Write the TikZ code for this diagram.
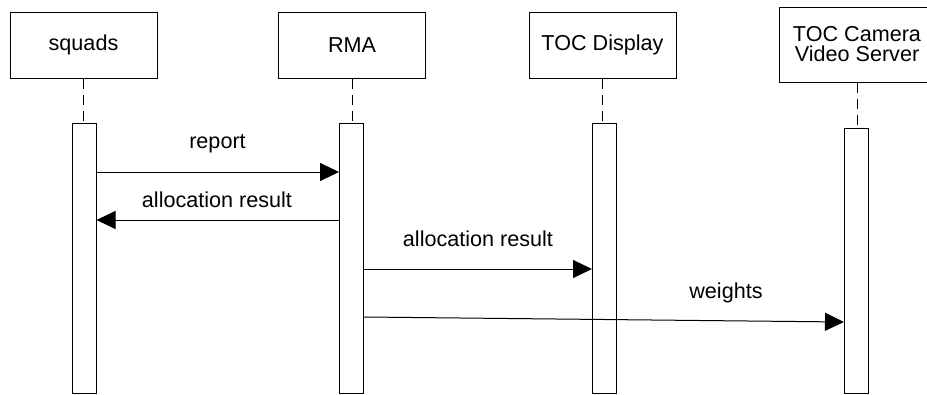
\documentclass[tikz,border=0pt]{standalone}
\usepackage{fontspec}
\setmainfont{Liberation Sans}
\usetikzlibrary{arrows.meta}
\begin{document}
\begin{tikzpicture}[x=1pt,y=-1pt,
  every node/.style={font=\fontsize{21.6}{20}\selectfont},
  actor/.style={draw, line width=1pt, minimum width=147pt, minimum height=66pt, inner sep=0pt, align=center},
  actbar/.style={draw, line width=1pt, minimum width=24pt, inner sep=0pt},
  life/.style={line width=1pt, dash pattern=on 10pt off 6pt},
  msg/.style={line width=1pt, -{Triangle[length=19pt,width=18pt]}},
  lbl/.style={anchor=base, inner sep=0pt}]
\useasboundingbox (0,0) rectangle (927,394);
% actors
\node[actor] (sq) at (83.5,45) {squads};
\node[actor] (rma) at (352,45) {RMA};
\node[actor] (tocd) at (602.5,45) {TOC Display};
\node[actor, minimum height=75pt, minimum width=156pt] (cam) at (857,44.5) {TOC Camera\\Video Server};
% activation bars
\node[actbar, minimum height=270pt] (sqb) at (84,258) {};
\node[actbar, minimum height=270pt] (rmab) at (351.5,258) {};
\node[actbar, minimum height=270pt] (tocdb) at (604.5,258) {};
\node[actbar, minimum height=265pt] (camb) at (856.5,260.5) {};
% lifelines
\draw[life] (sq.south) -- (sq.south |- sqb.north);
\draw[life] (rma.south) -- (rma.south |- rmab.north);
\draw[life] (tocd.south) -- (tocd.south |- tocdb.north);
\draw[life] (cam.south) -- (cam.south |- camb.north);
% messages
\draw[msg] (sqb.east |- 0,172) -- (rmab.west |- 0,172);
\draw[msg] (rmab.west |- 0,220) -- (sqb.east |- 0,220);
\draw[msg] (rmab.east |- 0,269) -- (tocdb.west |- 0,269);
\draw[msg] (rmab.east |- 0,317) -- (camb.west |- 0,322);
% labels
\node[lbl] (l1) at (217.5,148) {report};
\node[lbl] (l2) at (217,207) {allocation result};
\node[lbl] (l3) at (478,246) {allocation result};
\node[lbl] (l4) at (726,298) {weights};
\end{tikzpicture}
\end{document}
